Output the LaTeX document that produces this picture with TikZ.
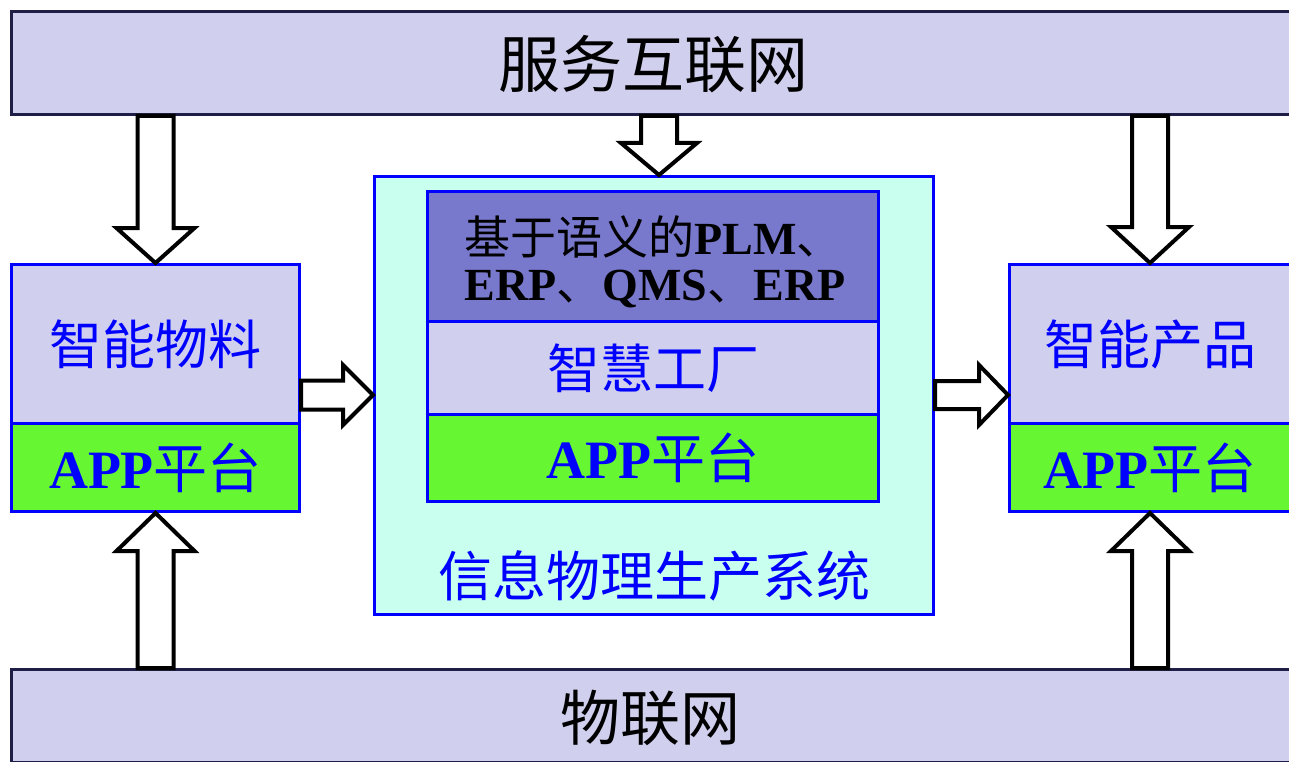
\documentclass[tikz,border=0pt]{standalone}
\usepackage{fontspec}
\setmainfont{Liberation Serif}
\newfontfamily\cjk{Noto Sans CJK SC}
\usetikzlibrary{calc}
\definecolor{lav}{RGB}{208,208,238}
\definecolor{purp}{RGB}{120,120,204}
\definecolor{appgreen}{RGB}{102,246,50}
\definecolor{lcyan}{RGB}{200,255,238}
\definecolor{navy}{RGB}{30,30,70}
\tikzset{
  bar/.style={draw=navy, line width=3pt, fill=lav, anchor=north west, inner sep=0pt},
  bbox/.style={draw=blue, line width=3pt, anchor=north west, inner sep=0pt},
  barrow/.style={draw=black, line width=4pt, fill=white, line join=miter},
  bluetxt/.style={text=blue, font=\cjk\fontsize{53}{57}\selectfont},
  apptxt/.style={text=blue, font=\fontsize{54}{58}\selectfont},
}
\newcommand\blockarrow[5]{%
  \path ($(#2)!#3!(#1)$) coordinate (hb);
  \draw[barrow] ($(#1)!#4!90:(#2)$) -- ($(hb)!#4!-90:(#1)$) -- ($(hb)!#5!-90:(#1)$) -- (#2)
    -- ($(hb)!#5!90:(#1)$) -- ($(hb)!#4!90:(#1)$) -- ($(#1)!#4!-90:(#2)$) -- cycle;}
\begin{document}
\begin{tikzpicture}[x=1pt,y=-1pt]
\useasboundingbox (0,0) rectangle (1289,762);
\clip (0,0) rectangle (1289,762);
\fill[white] (0,0) rectangle (1289,762);
% bars
\node[bar, minimum width=1310pt, minimum height=103pt] (top) at (10,10) {};
\node[font=\cjk\fontsize{62}{66}\selectfont, text=black] (toptxt) at (653,64) {服务互联网};
\node[bar, minimum width=1310pt, minimum height=93pt] (bot) at (10,668) {};
\node[font=\cjk\fontsize{60}{64}\selectfont, text=black] (bottxt) at (650,718) {物联网};
% left box
\node[bbox, fill=lav, minimum width=288pt, minimum height=159pt] (lm) at (10,263) {};
\node[bluetxt] (lmtxt) at (lm.center) {智能物料};
\node[bbox, fill=appgreen, minimum width=288pt, minimum height=88pt] (lapp) at (10,422) {};
\node[apptxt] (lapptxt) at (lapp.center) {\textbf{APP}{\cjk 平台}};
% right box
\node[bbox, fill=lav, minimum width=300pt, minimum height=159pt] (rp) at (1008,263) {};
\node[bluetxt] (rptxt) at ($(rp.west)+(142,0)$) {智能产品};
\node[bbox, fill=appgreen, minimum width=300pt, minimum height=88pt] (rapp) at (1008,422) {};
\node[apptxt] (rapptxt) at ($(rapp.west)+(142,0)$) {\textbf{APP}{\cjk 平台}};
% centre
\node[bbox, fill=lcyan, minimum width=559pt, minimum height=438pt] (cps) at (373,175) {};
\node[bbox, fill=purp, minimum width=451pt, minimum height=130pt] (sem) at (426,190) {};
\node[text=black, font=\fontsize{46}{50}\selectfont, align=left] (semtxt) at ($(sem.center)+(2,5)$)
  {{\cjk 基于语义的}\textbf{PLM}{\cjk 、}\\[-4pt]\textbf{ERP}{\cjk 、}\textbf{QMS}{\cjk 、}\textbf{ERP}};
\node[bbox, fill=lav, minimum width=451pt, minimum height=93pt] (sf) at (426,320) {};
\node[bluetxt] (sftxt) at (sf.center) {智慧工厂};
\node[bbox, fill=appgreen, minimum width=451pt, minimum height=87pt] (capp) at (426,413) {};
\node[apptxt] (capptxt) at (capp.center) {\textbf{APP}{\cjk 平台}};
\node[bluetxt, font=\cjk\fontsize{54}{58}\selectfont] (cpstxt) at (654,576) {信息物理生产系统};
% arrows
\coordinate (a1s) at (top.south -| lm.north);
\blockarrow{a1s}{lm.north}{35pt}{18pt}{39pt}
\coordinate (a2e) at ($(cps.north)+(5,0)$);
\coordinate (a2s) at (top.south -| a2e);
\blockarrow{a2s}{a2e}{32pt}{18pt}{38pt}
\coordinate (a3e) at ($(rp.north west)+(142,0)$);
\coordinate (a3s) at (top.south -| a3e);
\blockarrow{a3s}{a3e}{36pt}{18pt}{39pt}
\coordinate (a4s) at (bot.north -| lapp.south);
\blockarrow{a4s}{lapp.south}{38pt}{18pt}{39pt}
\coordinate (a5e) at ($(rapp.south west)+(142,0)$);
\coordinate (a5s) at (bot.north -| a5e);
\blockarrow{a5s}{a5e}{38pt}{18pt}{39pt}
\coordinate (r1a) at ([yshift=30pt]lm.south east);
\coordinate (r1b) at (cps.west |- r1a);
\blockarrow{r1a}{r1b}{30pt}{14.5pt}{30pt}
\coordinate (r2a) at (cps.east |- r1a);
\coordinate (r2b) at (rp.west |- r1a);
\blockarrow{r2a}{r2b}{29pt}{14pt}{30pt}
\end{tikzpicture}
\end{document}
